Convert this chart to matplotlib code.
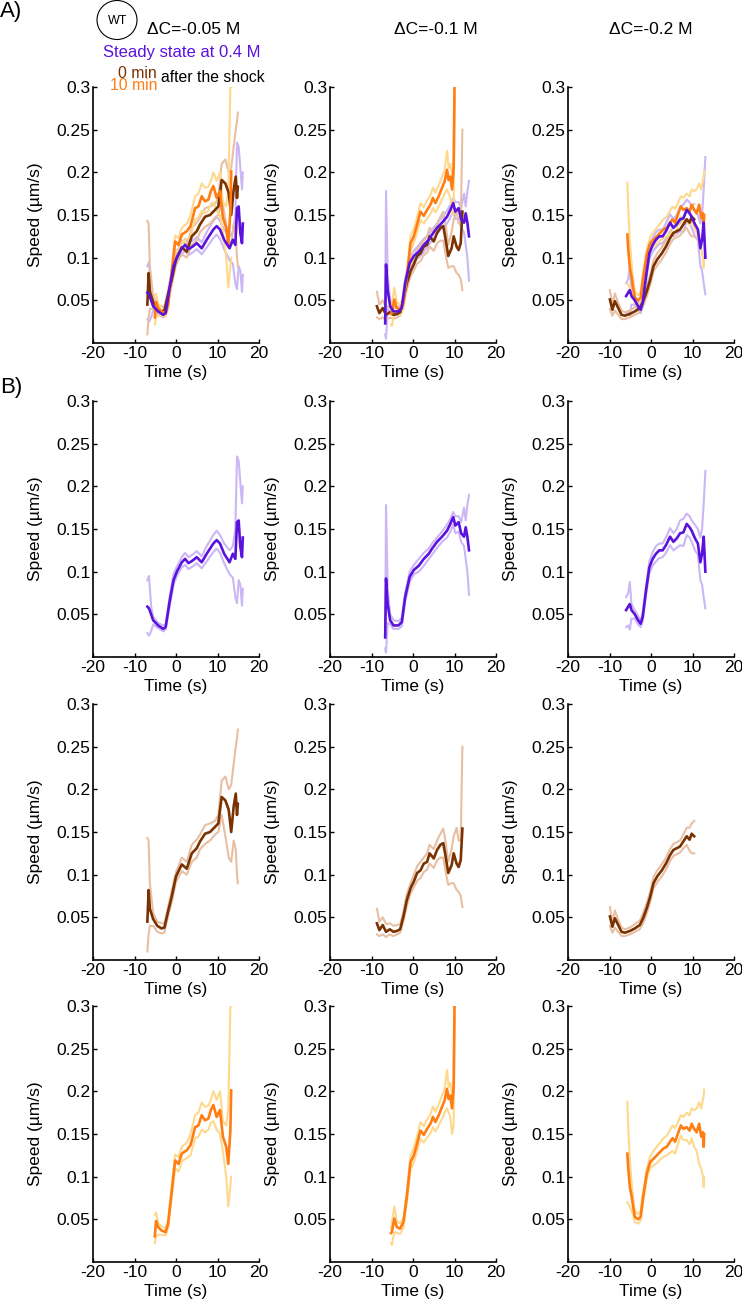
import matplotlib
matplotlib.use('Agg')
import matplotlib.pyplot as plt
from matplotlib.patches import Ellipse

# ---- data: mean speed and the lower / upper envelope (um/s) vs time (s) ----
# dC = -0.05 M
t_05_ss = [-6.9, -6.5, -6.0, -5.5, -4.3, -3.1, -2.5, -1.5, -0.6, 0.2, 1.4, 2.2, 3.0, 4.0, 5.0, 6.2, 7.4, 9.0, 9.8, 10.6, 11.6, 12.9, 13.7, 14.3, 14.7, 15.1, 15.5, 15.9, 16.1]
m_05_ss = [0.059, 0.057, 0.050, 0.043, 0.037, 0.033, 0.035, 0.066, 0.090, 0.100, 0.111, 0.115, 0.110, 0.113, 0.117, 0.111, 0.121, 0.133, 0.137, 0.133, 0.121, 0.111, 0.121, 0.115, 0.158, 0.160, 0.129, 0.117, 0.140]
hi_05_ss = [0.090, 0.095, 0.060, 0.047, 0.040, 0.037, 0.038, 0.072, 0.097, 0.106, 0.117, 0.122, 0.117, 0.120, 0.124, 0.118, 0.130, 0.143, 0.148, 0.143, 0.133, 0.125, 0.130, 0.150, 0.235, 0.230, 0.205, 0.180, 0.200]
lo_05_ss = [0.028, 0.025, 0.030, 0.038, 0.034, 0.030, 0.032, 0.060, 0.084, 0.095, 0.105, 0.108, 0.103, 0.106, 0.110, 0.104, 0.112, 0.123, 0.127, 0.122, 0.110, 0.097, 0.093, 0.070, 0.063, 0.090, 0.085, 0.060, 0.080]

t_05_0 = [-6.9, -6.6, -6.3, -5.5, -4.5, -3.5, -2.8, -2.0, -1.0, 0.0, 1.4, 2.6, 3.8, 5.0, 5.8, 7.0, 8.2, 9.4, 10.2, 11.0, 11.9, 12.7, 13.3, 13.9, 14.4, 14.7, 14.9]
m_05_0 = [0.045, 0.082, 0.060, 0.048, 0.040, 0.037, 0.038, 0.055, 0.075, 0.098, 0.112, 0.107, 0.125, 0.131, 0.139, 0.148, 0.150, 0.156, 0.160, 0.191, 0.187, 0.176, 0.150, 0.180, 0.195, 0.170, 0.183]
hi_05_0 = [0.143, 0.140, 0.090, 0.055, 0.045, 0.043, 0.043, 0.060, 0.082, 0.103, 0.120, 0.115, 0.135, 0.141, 0.147, 0.158, 0.160, 0.163, 0.170, 0.210, 0.215, 0.200, 0.205, 0.230, 0.250, 0.260, 0.270]
lo_05_0 = [0.010, 0.030, 0.040, 0.040, 0.033, 0.031, 0.032, 0.050, 0.068, 0.092, 0.104, 0.100, 0.115, 0.120, 0.130, 0.136, 0.140, 0.147, 0.150, 0.170, 0.145, 0.120, 0.115, 0.140, 0.130, 0.100, 0.090]

t_05_10 = [-5.1, -4.8, -4.3, -3.5, -2.5, -1.9, -1.0, -0.2, 0.6, 1.4, 2.6, 3.5, 4.6, 5.4, 6.2, 7.0, 7.8, 8.4, 9.0, 9.8, 10.6, 11.3, 12.1, 12.6, 13.1, 13.3]
m_05_10 = [0.030, 0.048, 0.041, 0.037, 0.035, 0.045, 0.084, 0.119, 0.115, 0.127, 0.131, 0.137, 0.158, 0.160, 0.172, 0.166, 0.168, 0.178, 0.184, 0.170, 0.178, 0.147, 0.135, 0.115, 0.154, 0.201]
hi_05_10 = [0.055, 0.058, 0.046, 0.042, 0.040, 0.050, 0.090, 0.126, 0.123, 0.135, 0.140, 0.150, 0.172, 0.175, 0.187, 0.182, 0.183, 0.190, 0.200, 0.190, 0.200, 0.165, 0.160, 0.180, 0.300, 0.300]
lo_05_10 = [0.022, 0.030, 0.032, 0.032, 0.031, 0.040, 0.077, 0.110, 0.106, 0.118, 0.122, 0.125, 0.145, 0.147, 0.155, 0.152, 0.155, 0.163, 0.165, 0.155, 0.150, 0.130, 0.100, 0.065, 0.090, 0.100]

# dC = -0.1 M
t_1_ss = [-6.7, -6.5, -6.1, -5.5, -4.7, -3.5, -2.7, -1.9, -0.8, 0.2, 1.4, 2.6, 3.8, 4.6, 5.8, 7.0, 8.2, 9.0, 9.7, 10.2, 11.0, 11.6, 12.3, 12.7, 13.1, 13.5]
m_1_ss = [0.023, 0.092, 0.062, 0.043, 0.037, 0.037, 0.041, 0.070, 0.094, 0.102, 0.107, 0.115, 0.121, 0.127, 0.135, 0.141, 0.148, 0.156, 0.164, 0.154, 0.158, 0.145, 0.141, 0.152, 0.141, 0.125]
hi_1_ss = [0.030, 0.178, 0.080, 0.050, 0.043, 0.042, 0.046, 0.075, 0.100, 0.108, 0.115, 0.122, 0.127, 0.133, 0.140, 0.147, 0.155, 0.162, 0.170, 0.165, 0.165, 0.158, 0.175, 0.160, 0.178, 0.190]
lo_1_ss = [0.010, 0.005, 0.040, 0.038, 0.033, 0.033, 0.036, 0.064, 0.088, 0.097, 0.100, 0.107, 0.115, 0.120, 0.128, 0.135, 0.140, 0.147, 0.155, 0.145, 0.147, 0.135, 0.130, 0.115, 0.100, 0.073]

t_1_0 = [-8.7, -8.1, -7.3, -6.5, -5.6, -4.7, -3.9, -3.1, -2.3, -1.5, -0.6, 0.2, 1.0, 1.8, 2.6, 3.4, 4.0, 5.0, 5.8, 6.6, 7.3, 7.8, 8.5, 9.3, 9.8, 10.5, 11.0, 11.5, 11.9]
m_1_0 = [0.043, 0.035, 0.041, 0.033, 0.036, 0.033, 0.034, 0.036, 0.051, 0.070, 0.084, 0.092, 0.102, 0.105, 0.113, 0.115, 0.125, 0.119, 0.129, 0.135, 0.137, 0.123, 0.102, 0.111, 0.125, 0.113, 0.109, 0.117, 0.154]
hi_1_0 = [0.060, 0.045, 0.050, 0.042, 0.043, 0.040, 0.041, 0.042, 0.057, 0.077, 0.090, 0.100, 0.110, 0.115, 0.120, 0.125, 0.135, 0.130, 0.140, 0.148, 0.154, 0.140, 0.115, 0.130, 0.145, 0.155, 0.140, 0.140, 0.250]
lo_1_0 = [0.030, 0.028, 0.030, 0.027, 0.030, 0.028, 0.030, 0.032, 0.046, 0.063, 0.078, 0.085, 0.093, 0.096, 0.103, 0.106, 0.113, 0.108, 0.117, 0.120, 0.120, 0.105, 0.088, 0.090, 0.090, 0.082, 0.080, 0.075, 0.062]

t_1_10 = [-5.3, -5.1, -4.5, -3.9, -3.1, -2.3, -1.5, -0.6, 0.2, 1.0, 1.8, 2.6, 3.4, 4.2, 4.8, 5.4, 6.2, 7.0, 7.6, 8.2, 8.6, 9.0, 9.4, 9.8, 10.0]
m_1_10 = [0.034, 0.035, 0.051, 0.041, 0.039, 0.047, 0.076, 0.117, 0.125, 0.139, 0.154, 0.149, 0.156, 0.162, 0.170, 0.164, 0.172, 0.182, 0.189, 0.203, 0.191, 0.195, 0.180, 0.205, 0.300]
hi_1_10 = [0.040, 0.045, 0.065, 0.048, 0.045, 0.052, 0.083, 0.125, 0.134, 0.148, 0.164, 0.159, 0.167, 0.173, 0.182, 0.176, 0.185, 0.195, 0.202, 0.225, 0.205, 0.210, 0.195, 0.215, 0.290]
lo_1_10 = [0.022, 0.020, 0.035, 0.034, 0.033, 0.040, 0.070, 0.108, 0.117, 0.130, 0.144, 0.140, 0.146, 0.151, 0.158, 0.153, 0.160, 0.168, 0.175, 0.180, 0.175, 0.170, 0.150, 0.160, 0.290]

# dC = -0.2 M
t_2_ss = [-6.0, -5.5, -5.1, -4.7, -3.9, -3.1, -2.5, -2.0, -1.2, -0.4, 0.4, 1.2, 2.0, 2.8, 3.6, 4.6, 5.4, 6.2, 7.0, 7.8, 8.6, 9.3, 9.8, 10.6, 11.3, 11.9, 12.3, 12.7, 13.1]
m_2_ss = [0.055, 0.059, 0.062, 0.055, 0.050, 0.043, 0.039, 0.047, 0.078, 0.105, 0.115, 0.121, 0.125, 0.125, 0.131, 0.141, 0.135, 0.139, 0.145, 0.146, 0.156, 0.152, 0.148, 0.139, 0.133, 0.111, 0.121, 0.141, 0.100]
hi_2_ss = [0.070, 0.075, 0.088, 0.062, 0.055, 0.048, 0.043, 0.052, 0.083, 0.112, 0.123, 0.130, 0.133, 0.133, 0.140, 0.151, 0.145, 0.150, 0.160, 0.162, 0.168, 0.165, 0.160, 0.155, 0.150, 0.140, 0.150, 0.180, 0.218]
lo_2_ss = [0.035, 0.037, 0.032, 0.045, 0.045, 0.038, 0.035, 0.042, 0.072, 0.098, 0.107, 0.112, 0.116, 0.117, 0.122, 0.131, 0.125, 0.128, 0.131, 0.130, 0.143, 0.140, 0.135, 0.125, 0.120, 0.090, 0.085, 0.070, 0.057]

t_2_0 = [-9.9, -9.3, -8.7, -7.9, -7.1, -6.3, -5.1, -3.9, -2.7, -1.9, -1.0, -0.2, 0.6, 1.5, 2.6, 3.6, 4.6, 5.4, 6.2, 7.0, 7.8, 8.6, 9.3, 9.8, 10.4]
m_2_0 = [0.051, 0.039, 0.049, 0.041, 0.033, 0.032, 0.034, 0.037, 0.041, 0.049, 0.061, 0.074, 0.090, 0.098, 0.105, 0.113, 0.123, 0.129, 0.131, 0.133, 0.139, 0.145, 0.141, 0.148, 0.145]
hi_2_0 = [0.062, 0.045, 0.058, 0.047, 0.038, 0.036, 0.038, 0.042, 0.046, 0.055, 0.067, 0.080, 0.097, 0.105, 0.112, 0.120, 0.130, 0.136, 0.138, 0.140, 0.147, 0.155, 0.155, 0.160, 0.163]
lo_2_0 = [0.040, 0.032, 0.038, 0.033, 0.028, 0.028, 0.030, 0.033, 0.036, 0.043, 0.055, 0.068, 0.084, 0.091, 0.098, 0.106, 0.116, 0.122, 0.124, 0.126, 0.131, 0.135, 0.128, 0.125, 0.125]

t_2_10 = [-5.7, -5.5, -5.1, -4.7, -4.3, -3.9, -3.1, -2.5, -1.9, -1.0, -0.2, 0.6, 1.4, 2.2, 3.0, 3.8, 4.6, 5.2, 5.8, 6.6, 7.2, 7.8, 8.6, 9.3, 9.8, 10.4, 11.0, 11.6, 12.1, 12.5, 12.7, 12.8]
m_2_10 = [0.127, 0.111, 0.088, 0.078, 0.065, 0.053, 0.050, 0.053, 0.076, 0.104, 0.117, 0.121, 0.125, 0.129, 0.133, 0.135, 0.141, 0.145, 0.141, 0.152, 0.160, 0.156, 0.158, 0.154, 0.162, 0.156, 0.152, 0.162, 0.147, 0.152, 0.135, 0.150]
hi_2_10 = [0.188, 0.160, 0.120, 0.095, 0.075, 0.060, 0.056, 0.060, 0.083, 0.110, 0.124, 0.130, 0.135, 0.140, 0.145, 0.148, 0.155, 0.160, 0.157, 0.165, 0.172, 0.170, 0.175, 0.172, 0.180, 0.178, 0.180, 0.187, 0.180, 0.190, 0.195, 0.202]
lo_2_10 = [0.070, 0.068, 0.065, 0.060, 0.055, 0.047, 0.045, 0.048, 0.070, 0.098, 0.110, 0.113, 0.116, 0.120, 0.123, 0.125, 0.128, 0.130, 0.127, 0.140, 0.148, 0.143, 0.143, 0.138, 0.145, 0.135, 0.130, 0.115, 0.110, 0.100, 0.088, 0.100]

titles = ['ΔC=-0.05 M', 'ΔC=-0.1 M', 'ΔC=-0.2 M']
x_ticks = [-20, -10, 0, 10, 20]
y_ticks = [0.05, 0.1, 0.15, 0.2, 0.25, 0.3]
y_ticklabels = ['0.05', '0.1', '0.15', '0.2', '0.25', '0.3']

# colours: (mean, envelope)
colors = {
    'ss': ('#5b12dc', '#cbb7f5'),
    '0': ('#7a3200', '#e8bfa3'),
    '10': ('#ff7d12', '#fed98d'),
}

W, H = 742, 1301


def fx(x):
    return x / W


def fy(y):
    return 1 - y / H


def draw_series(ax, t, m, lo, hi, key, light=True, dark=True):
    c_dark, c_light = colors[key]
    if light:
        ax.plot(t, hi, color=c_light, lw=1.5, solid_joinstyle='round')
        ax.plot(t, lo, color=c_light, lw=1.5, solid_joinstyle='round')
    if dark:
        ax.plot(t, m, color=c_dark, lw=1.9, solid_joinstyle='round')


def style_axes(ax):
    ax.set_xlim(-20, 20)
    ax.set_ylim(0, 0.3)
    ax.set_xticks(x_ticks)
    ax.set_yticks(y_ticks)
    ax.set_yticklabels(y_ticklabels)
    for s in ['top', 'right']:
        ax.spines[s].set_visible(False)
    for s in ['left', 'bottom']:
        ax.spines[s].set_linewidth(1.2)
    ax.tick_params(direction='in', length=3, width=1.0, labelsize=12.5, pad=2)
    ax.set_xlabel('Time (s)', fontsize=12.5)
    ax.set_ylabel('Speed (µm/s)', fontsize=12.5)
    ax.xaxis.set_label_coords(0.5, -0.085)
    ax.yaxis.set_label_coords(-0.30, 0.5)


def create_figure():
    plt.rcParams['font.family'] = ['Liberation Sans', 'DejaVu Sans']
    plt.rcParams['axes.unicode_minus'] = False
    fig = plt.figure(figsize=(W / 100, H / 100), dpi=100)

    series = [
        {'ss': (t_05_ss, m_05_ss, lo_05_ss, hi_05_ss),
         '0': (t_05_0, m_05_0, lo_05_0, hi_05_0),
         '10': (t_05_10, m_05_10, lo_05_10, hi_05_10)},
        {'ss': (t_1_ss, m_1_ss, lo_1_ss, hi_1_ss),
         '0': (t_1_0, m_1_0, lo_1_0, hi_1_0),
         '10': (t_1_10, m_1_10, lo_1_10, hi_1_10)},
        {'ss': (t_2_ss, m_2_ss, lo_2_ss, hi_2_ss),
         '0': (t_2_0, m_2_0, lo_2_0, hi_2_0),
         '10': (t_2_10, m_2_10, lo_2_10, hi_2_10)},
    ]

    col_left = [93, 330, 568]
    row_top = [87, 401, 704, 1006]
    aw, ah = 166, 256

    for r, top in enumerate(row_top):
        for c, left in enumerate(col_left):
            ax = fig.add_axes([fx(left), fy(top + ah), aw / W, ah / H])
            data = series[c]
            if r == 0:
                # overlay: envelopes first, then means
                for key in ['ss', '0', '10']:
                    draw_series(ax, *data[key], key, dark=False)
                for key in ['0', '10', 'ss']:
                    draw_series(ax, *data[key], key, light=False)
            else:
                key = ['ss', '0', '10'][r - 1]
                draw_series(ax, *data[key], key)
            style_axes(ax)

    # column titles
    title_x = [194, 436, 651]
    for x, t in zip(title_x, titles):
        fig.text(fx(x), fy(29), t, ha='center', va='center', fontsize=12.5)

    # panel letters
    fig.text(fx(0), fy(11), 'A)', ha='left', va='center', fontsize=16)
    fig.text(fx(0), fy(387), 'B)', ha='left', va='center', fontsize=16)

    # WT badge and legend text
    fig.patches.append(Ellipse((fx(117), fy(20)), 40 / W, 39 / H, transform=fig.transFigure,
                               fill=False, edgecolor='black', lw=0.8))
    fig.text(fx(118), fy(21), 'WT', ha='center', va='center', fontsize=9)
    fig.text(fx(103), fy(52), 'Steady state at 0.4 M', ha='left', va='center',
             fontsize=12, color=colors['ss'][0])
    fig.text(fx(157), fy(73), '0 min', ha='right', va='center', fontsize=11.3, color=colors['0'][0])
    fig.text(fx(157), fy(86), '10 min', ha='right', va='center', fontsize=11.3, color=colors['10'][0])
    fig.text(fx(161), fy(77), 'after the shock', ha='left', va='center', fontsize=11.3, color='black')

    fig.savefig('out.png', dpi=100)


if __name__ == "__main__":
    create_figure()
